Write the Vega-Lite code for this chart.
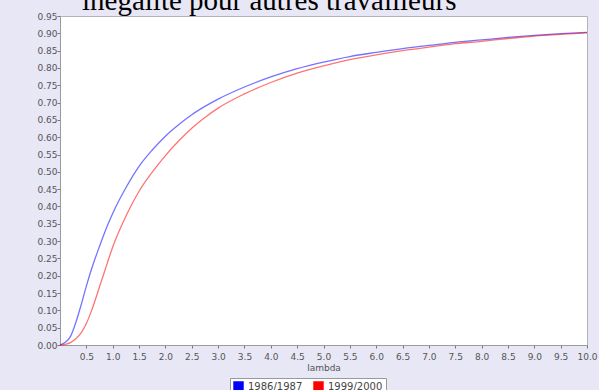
{
  "$schema": "https://vega.github.io/schema/vega-lite/v6.json",
  "autosize": {"type": "none"},
  "width": 527,
  "height": 329,
  "padding": {"left": 60, "top": 16, "right": 12, "bottom": 45},
  "background": "#e8e7f5",
  "title": {
    "text": "inégalité pour autres travailleurs",
    "font": "Liberation Serif",
    "fontSize": 29,
    "fontWeight": "normal",
    "color": "#000000",
    "anchor": "start",
    "frame": "group",
    "dx": 22,
    "offset": 0,
    "dy": 4
  },
  "config": {
    "view": {"stroke": "#b4b4b4", "fill": "#ffffff"},
    "axis": {
      "labelFont": "DejaVu Sans",
      "labelFontSize": 9,
      "labelColor": "#555555",
      "titleFont": "DejaVu Sans",
      "titleFontSize": 9,
      "titleFontWeight": "normal",
      "titleColor": "#555555",
      "domainColor": "#9a9a9a",
      "tickColor": "#777777",
      "grid": false,
      "labelOverlap": false,
      "labelFlush": false
    }
  },
  "data": {
    "values": [
      {"lambda": 0, "value": 0, "series": "1986/1987"},
      {"lambda": 0.1, "value": 0.008, "series": "1986/1987"},
      {"lambda": 0.2, "value": 0.025, "series": "1986/1987"},
      {"lambda": 0.3, "value": 0.065, "series": "1986/1987"},
      {"lambda": 0.4, "value": 0.115, "series": "1986/1987"},
      {"lambda": 0.5, "value": 0.17, "series": "1986/1987"},
      {"lambda": 0.6, "value": 0.22, "series": "1986/1987"},
      {"lambda": 0.75, "value": 0.285, "series": "1986/1987"},
      {"lambda": 0.9, "value": 0.345, "series": "1986/1987"},
      {"lambda": 1.0, "value": 0.38, "series": "1986/1987"},
      {"lambda": 1.25, "value": 0.454, "series": "1986/1987"},
      {"lambda": 1.5, "value": 0.516, "series": "1986/1987"},
      {"lambda": 1.75, "value": 0.563, "series": "1986/1987"},
      {"lambda": 2.0, "value": 0.603, "series": "1986/1987"},
      {"lambda": 2.25, "value": 0.636, "series": "1986/1987"},
      {"lambda": 2.5, "value": 0.665, "series": "1986/1987"},
      {"lambda": 2.75, "value": 0.689, "series": "1986/1987"},
      {"lambda": 3.0, "value": 0.71, "series": "1986/1987"},
      {"lambda": 3.5, "value": 0.745, "series": "1986/1987"},
      {"lambda": 4.0, "value": 0.774, "series": "1986/1987"},
      {"lambda": 4.5, "value": 0.798, "series": "1986/1987"},
      {"lambda": 5.0, "value": 0.817, "series": "1986/1987"},
      {"lambda": 5.5, "value": 0.833, "series": "1986/1987"},
      {"lambda": 6.0, "value": 0.845, "series": "1986/1987"},
      {"lambda": 6.5, "value": 0.856, "series": "1986/1987"},
      {"lambda": 7.0, "value": 0.865, "series": "1986/1987"},
      {"lambda": 7.5, "value": 0.874, "series": "1986/1987"},
      {"lambda": 8.0, "value": 0.881, "series": "1986/1987"},
      {"lambda": 8.5, "value": 0.888, "series": "1986/1987"},
      {"lambda": 9.0, "value": 0.894, "series": "1986/1987"},
      {"lambda": 9.5, "value": 0.899, "series": "1986/1987"},
      {"lambda": 10.0, "value": 0.903, "series": "1986/1987"},
      {"lambda": 0, "value": 0, "series": "1999/2000"},
      {"lambda": 0.1, "value": 0.002, "series": "1999/2000"},
      {"lambda": 0.2, "value": 0.007, "series": "1999/2000"},
      {"lambda": 0.3, "value": 0.018, "series": "1999/2000"},
      {"lambda": 0.4, "value": 0.035, "series": "1999/2000"},
      {"lambda": 0.5, "value": 0.062, "series": "1999/2000"},
      {"lambda": 0.6, "value": 0.1, "series": "1999/2000"},
      {"lambda": 0.75, "value": 0.168, "series": "1999/2000"},
      {"lambda": 0.9, "value": 0.238, "series": "1999/2000"},
      {"lambda": 1.0, "value": 0.283, "series": "1999/2000"},
      {"lambda": 1.25, "value": 0.372, "series": "1999/2000"},
      {"lambda": 1.5, "value": 0.444, "series": "1999/2000"},
      {"lambda": 1.75, "value": 0.499, "series": "1999/2000"},
      {"lambda": 2.0, "value": 0.547, "series": "1999/2000"},
      {"lambda": 2.25, "value": 0.589, "series": "1999/2000"},
      {"lambda": 2.5, "value": 0.626, "series": "1999/2000"},
      {"lambda": 2.75, "value": 0.657, "series": "1999/2000"},
      {"lambda": 3.0, "value": 0.684, "series": "1999/2000"},
      {"lambda": 3.5, "value": 0.725, "series": "1999/2000"},
      {"lambda": 4.0, "value": 0.758, "series": "1999/2000"},
      {"lambda": 4.5, "value": 0.785, "series": "1999/2000"},
      {"lambda": 5.0, "value": 0.806, "series": "1999/2000"},
      {"lambda": 5.5, "value": 0.824, "series": "1999/2000"},
      {"lambda": 6.0, "value": 0.838, "series": "1999/2000"},
      {"lambda": 6.5, "value": 0.85, "series": "1999/2000"},
      {"lambda": 7.0, "value": 0.86, "series": "1999/2000"},
      {"lambda": 7.5, "value": 0.87, "series": "1999/2000"},
      {"lambda": 8.0, "value": 0.877, "series": "1999/2000"},
      {"lambda": 8.5, "value": 0.885, "series": "1999/2000"},
      {"lambda": 9.0, "value": 0.892, "series": "1999/2000"},
      {"lambda": 9.5, "value": 0.897, "series": "1999/2000"},
      {"lambda": 10.0, "value": 0.901, "series": "1999/2000"}
    ]
  },
  "mark": {"type": "line", "interpolate": "monotone", "strokeWidth": 1.3, "strokeOpacity": 0.55},
  "encoding": {
    "x": {
      "field": "lambda",
      "type": "quantitative",
      "scale": {"domain": [0, 10], "nice": false, "zero": false},
      "axis": {
        "title": "lambda",
        "values": [0.5,1,1.5,2,2.5,3,3.5,4,4.5,5,5.5,6,6.5,7,7.5,8,8.5,9,9.5,10],
        "format": ".1f",
        "tickSize": 3,
        "labelPadding": 4,
        "titlePadding": 2
      }
    },
    "y": {
      "field": "value",
      "type": "quantitative",
      "scale": {"domain": [0, 0.95], "nice": false},
      "axis": {
        "title": null,
        "values": [0,0.05,0.1,0.15,0.2,0.25,0.3,0.35,0.4,0.45,0.5,0.55,0.6,0.65,0.7,0.75,0.8,0.85,0.9,0.95],
        "format": ".2f",
        "tickSize": 3,
        "labelPadding": 0
      }
    },
    "color": {
      "field": "series",
      "type": "nominal",
      "scale": {"domain": ["1986/1987", "1999/2000"], "range": ["#0000ff", "#ff0000"]},
      "legend": {
        "title": null,
        "orient": "none",
        "legendX": 170,
        "legendY": 362,
        "direction": "horizontal",
        "symbolType": "square",
        "symbolSize": 80,
        "labelFont": "DejaVu Sans",
        "labelFontSize": 10,
        "labelColor": "#444444",
        "fillColor": "#ffffff",
        "strokeColor": "#999999",
        "padding": 3,
        "columnPadding": 8,
        "encode": {
          "symbols": {
            "update": {
              "fill": {"scale": "color", "field": "value"},
              "stroke": {"value": "transparent"},
              "fillOpacity": {"value": 1},
              "opacity": {"value": 1}
            }
          }
        }
      }
    }
  }
}
